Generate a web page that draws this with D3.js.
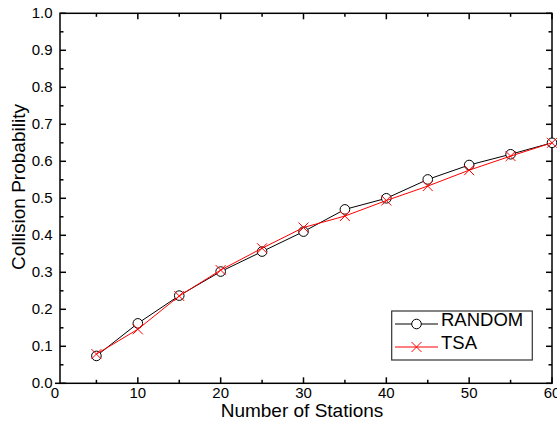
<!DOCTYPE html>
<html>
<head>
<meta charset="utf-8">
<script src="https://cdn.jsdelivr.net/npm/d3@7"></script>
<style>
  body { margin: 0; background: #fff; }
  text { font-family: "Liberation Sans", Arial, sans-serif; fill: #000; }
</style>
</head>
<body>
<div id="chart"></div>
<script>
var stations = [5, 10, 15, 20, 25, 30, 35, 40, 45, 50, 55, 60];
var randomVals = [0.074, 0.162, 0.237, 0.302, 0.356, 0.410, 0.470, 0.500, 0.551, 0.590, 0.619, 0.650];
var tsaVals = [0.079, 0.146, 0.236, 0.306, 0.365, 0.421, 0.452, 0.494, 0.533, 0.576, 0.614, 0.650];
var xTicks = [0, 10, 20, 30, 40, 50, 60];
var yTicks = [0, 0.1, 0.2, 0.3, 0.4, 0.5, 0.6, 0.7, 0.8, 0.9, 1.0];

var W = 557, H = 422;
var axisLeft = 60, axisRight = 552, axisTop = 13.3, axisBottom = 383.3;

var svg = d3.select("#chart").append("svg")
    .attr("width", W)
    .attr("height", H);

var x = d3.scaleLinear().domain([0, 60]).range([55, 552]);
var y = d3.scaleLinear().domain([0, 1]).range([axisBottom, axisTop]);

var fmt = d3.format(".1f");

// frame
svg.append("rect")
    .attr("x", axisLeft).attr("y", axisTop)
    .attr("width", axisRight - axisLeft).attr("height", axisBottom - axisTop)
    .attr("fill", "none").attr("stroke", "#000").attr("stroke-width", 1.5);
svg.append("line")
    .attr("x1", x(0)).attr("x2", axisLeft)
    .attr("y1", axisBottom).attr("y2", axisBottom)
    .attr("stroke", "#000").attr("stroke-width", 1.5);

// x ticks (inward), bottom + top
var xMinor = d3.range(5, 60, 10);
var xMajorIn = xTicks.filter(d => x(d) > axisLeft);
var ticks = svg.append("g").attr("stroke", "#000").attr("stroke-width", 1.5);
xMajorIn.forEach(d => {
    ticks.append("line").attr("x1", x(d)).attr("x2", x(d)).attr("y1", axisBottom).attr("y2", axisBottom - 6);
    ticks.append("line").attr("x1", x(d)).attr("x2", x(d)).attr("y1", axisTop).attr("y2", axisTop + 6);
});
xMinor.forEach(d => {
    ticks.append("line").attr("x1", x(d)).attr("x2", x(d)).attr("y1", axisBottom).attr("y2", axisBottom - 3.5);
    ticks.append("line").attr("x1", x(d)).attr("x2", x(d)).attr("y1", axisTop).attr("y2", axisTop + 3.5);
});
var yMinor = d3.range(0.05, 1, 0.1);
yTicks.forEach(d => {
    ticks.append("line").attr("x1", axisLeft).attr("x2", axisLeft + 6).attr("y1", y(d)).attr("y2", y(d));
    ticks.append("line").attr("x1", axisRight).attr("x2", axisRight - 6).attr("y1", y(d)).attr("y2", y(d));
});
yMinor.forEach(d => {
    ticks.append("line").attr("x1", axisLeft).attr("x2", axisLeft + 3.5).attr("y1", y(d)).attr("y2", y(d));
    ticks.append("line").attr("x1", axisRight).attr("x2", axisRight - 3.5).attr("y1", y(d)).attr("y2", y(d));
});

// tick labels
svg.append("g").selectAll("text")
    .data(xTicks)
    .enter().append("text")
    .attr("x", d => x(d))
    .attr("y", 397.5)
    .attr("text-anchor", "middle")
    .style("font-size", "15px")
    .text(d => d);
svg.append("g").selectAll("text")
    .data(yTicks)
    .enter().append("text")
    .attr("x", 52.5)
    .attr("y", d => y(d) + 5)
    .attr("text-anchor", "end")
    .style("font-size", "15px")
    .text(d => fmt(d));

// axis titles
svg.append("text")
    .attr("x", 302).attr("y", 416.5)
    .attr("text-anchor", "middle")
    .style("font-size", "19px")
    .text("Number of Stations");
svg.append("text")
    .attr("transform", "translate(24.5,187) rotate(-90)")
    .attr("text-anchor", "middle")
    .style("font-size", "19px")
    .text("Collision Probability");

// lines
var line = d3.line().x(d => x(d[0])).y(d => y(d[1]));
var randomData = stations.map((s, i) => [s, randomVals[i]]);
var tsaData = stations.map((s, i) => [s, tsaVals[i]]);

svg.append("path").datum(randomData)
    .attr("d", line).attr("fill", "none").attr("stroke", "#000").attr("stroke-width", 1);
svg.selectAll(".circ").data(randomData)
    .enter().append("circle")
    .attr("class", "circ")
    .attr("cx", d => x(d[0])).attr("cy", d => y(d[1]))
    .attr("r", 4.8)
    .attr("fill", "#fff").attr("stroke", "#000").attr("stroke-width", 1);

svg.append("path").datum(tsaData)
    .attr("d", line).attr("fill", "none").attr("stroke", "#ff0000").attr("stroke-width", 1);
svg.selectAll(".cross").data(tsaData)
    .enter().append("path")
    .attr("class", "cross")
    .attr("transform", d => "translate(" + x(d[0]) + "," + y(d[1]) + ")")
    .attr("d", "M-5,-5L5,5M-5,5L5,-5")
    .attr("stroke", "#ff0000").attr("stroke-width", 1);

// legend
var lg = svg.append("g");
lg.append("rect")
    .attr("x", 391.7).attr("y", 311)
    .attr("width", 140.6).attr("height", 49)
    .attr("fill", "#fff").attr("stroke", "#333").attr("stroke-width", 1.2);
lg.append("line").attr("x1", 395).attr("x2", 438).attr("y1", 324).attr("y2", 324)
    .attr("stroke", "#000").attr("stroke-width", 1);
lg.append("circle").attr("cx", 416.5).attr("cy", 324).attr("r", 4.8)
    .attr("fill", "#fff").attr("stroke", "#000");
lg.append("text").attr("x", 441).attr("y", 326).style("font-size", "18.5px").text("RANDOM");
lg.append("line").attr("x1", 395).attr("x2", 438).attr("y1", 347).attr("y2", 347)
    .attr("stroke", "#ff0000").attr("stroke-width", 1);
lg.append("path").attr("transform", "translate(416.5,347)")
    .attr("d", "M-5,-5L5,5M-5,5L5,-5").attr("stroke", "#ff0000");
lg.append("text").attr("x", 441).attr("y", 349).style("font-size", "18.5px").text("TSA");
</script>
</body>
</html>
